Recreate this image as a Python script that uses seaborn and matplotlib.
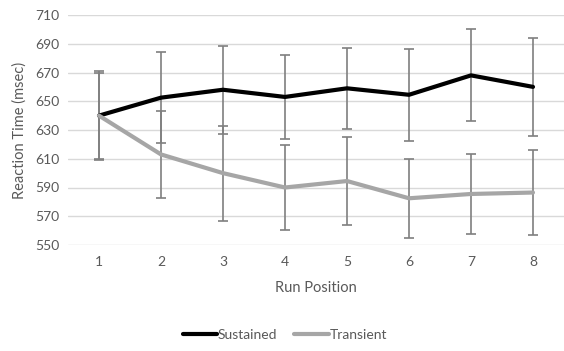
import numpy as np
import pandas as pd
import matplotlib
matplotlib.use("Agg")
import matplotlib.pyplot as plt
import seaborn as sns

run_position = [1, 2, 3, 4, 5, 6, 7, 8]
sustained = [640, 652.5, 658, 653, 659, 654.5, 668, 660]
sustained_err = [31, 31.5, 30.5, 29.5, 28, 32, 32, 34]
transient = [640, 613, 600, 590, 594.5, 582.5, 585.5, 586.5]
transient_err = [30, 30.5, 33, 29.5, 30.5, 27.5, 27.5, 29.5]

df = pd.DataFrame({
    "Run Position": run_position * 2,
    "RT": sustained + transient,
    "err": sustained_err + transient_err,
    "Condition": ["Sustained"] * 8 + ["Transient"] * 8,
})

sns.set_style("white")
plt.rcParams["font.family"] = ["Lato", "DejaVu Sans"]
text_color = "#595959"

fig = plt.figure(figsize=(5.64, 3.51), dpi=100)
ax = fig.add_axes([68 / 564, 1 - 245 / 351, (564 - 68) / 564, (245 - 15) / 351])

palette = {"Sustained": "#000000", "Transient": "#a6a6a6"}

# error bars first so the lines sit on top
for cond, grp in df.groupby("Condition"):
    ax.errorbar(grp["Run Position"], grp["RT"], yerr=grp["err"], fmt="none",
                ecolor="#7f7f7f", elinewidth=1.2, capsize=3.5, capthick=1.2, zorder=2)

sns.lineplot(data=df, x="Run Position", y="RT", hue="Condition", palette=palette,
             linewidth=3, ax=ax, zorder=3, legend=False)

ax.set_xlim(0.5, 8.5)
ax.set_ylim(550, 710)
ax.set_yticks(np.arange(550, 711, 20))
ax.set_xticks(run_position)
ax.yaxis.grid(True, color="#d9d9d9", linewidth=1)
ax.set_axisbelow(True)
for s in ax.spines.values():
    s.set_visible(False)
ax.tick_params(axis="both", length=0, labelsize=10, colors=text_color, pad=8)
ax.tick_params(axis="y", pad=6)
ax.set_xlabel("Run Position", fontsize=10.5, color=text_color, labelpad=9)
ax.set_ylabel("Reaction Time (msec)", fontsize=10.5, color=text_color, labelpad=6)

handles = [plt.Line2D([], [], color=palette[c], linewidth=3) for c in ["Sustained", "Transient"]]
fig.legend(handles, ["Sustained", "Transient"], loc="center", bbox_to_anchor=(0.505, 1 - 335 / 351),
           ncol=2, frameon=False, fontsize=10, labelcolor=text_color, handlelength=2.5,
           handletextpad=0.05, columnspacing=1.2)

fig.savefig("out.png", dpi=100)
